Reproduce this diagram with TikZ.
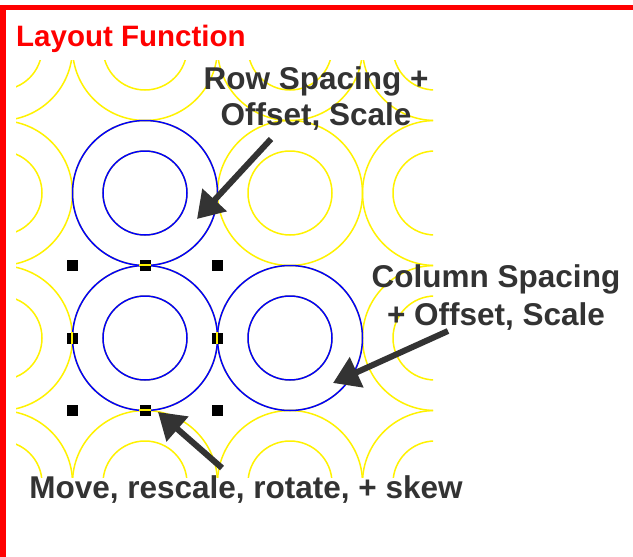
\documentclass[tikz,border=0pt]{standalone}
\usepackage{fontspec}
\setmainfont{Liberation Sans}
\usetikzlibrary{arrows.meta}
\usetikzlibrary{positioning}
\usetikzlibrary{calc}

\definecolor{txtgray}{RGB}{51,51,51}

\begin{document}
\begin{tikzpicture}
  [
    x=1pt, y=-1pt,
    ring/.style    = {line width=1.5pt},
    handle/.style  = {fill = black, minimum size=11pt, inner sep = 0pt},
    pointer/.style = {txtgray, line width=6pt, -{Triangle[length=26pt,width=32pt]}},
    caption/.style = {txtgray, font=\fontsize{31.5}{36}\selectfont\bfseries, align=center, inner sep=0pt},
  ]

  % page and frame
  \useasboundingbox (0,0) rectangle (633,557);
  \fill[white] (0,0) rectangle (633,557);
  \fill[red] (0,5) rectangle (633,10);
  \fill[red] (0,5) rectangle (6,557);

  \def\cell{145}
  \def\outer{72.5}
  \def\inner{42}

  % repeated copies
  \begin{scope}
    \clip (16,60) rectangle (433,477);
    \foreach \i in {0,...,3}
      \foreach \j in {0,...,3}
      {
        \draw[ring, yellow] (\i*\cell, 48+\j*\cell) circle (\outer pt);
        \draw[ring, yellow] (\i*\cell, 48+\j*\cell) circle (\inner pt);
      }
  \end{scope}

  % the selected cells
  \foreach \c in {(145,193),(145,338),(290,338)}
  {
    \draw[ring, blue] \c circle (\outer pt);
    \draw[ring, blue] \c circle (\inner pt);
  }

  % handles round the selection
  \foreach \hx/\hy [count=\k] in {72/265,145/265,217/265,72/338,217/338,72/410,145/410,217/410}
    \node[handle] (h\k) at (\hx,\hy) {};

  \draw[ring, yellow] (h2.west) -- (h2.east);
  \draw[ring, yellow] (h7.west) -- (h7.east);
  \draw[ring, yellow] (h4.north) -- (h4.south);
  \draw[ring, yellow] (h5.north) -- (h5.south);

  % labels (base = last line)
  \node (title) at (16,46) [anchor=base west, inner sep=0pt, red, font=\fontsize{29.5}{34}\selectfont\bfseries] {Layout Function};
  \node (rowlbl) at (316,125) [caption, anchor=base] {Row Spacing +\\Offset, Scale};
  \node (collbl) at (496,325) [caption, anchor=base, font=\fontsize{31.5}{38}\selectfont\bfseries] {Column Spacing\\+ Offset, Scale};
  \node (movelbl) at (246,498) [caption, anchor=base] {Move, rescale, rotate, + skew};

  % pointers
  \coordinate (rowtail) at (271,139);
  \coordinate (rowtip) at (197,219);
  \coordinate (coltail) at (448,331);
  \coordinate (coltip) at (333,383);
  \coordinate (movetail) at (222,468);
  \coordinate (movetip) at (158,412);

  \draw[pointer] (rowtail) -- (rowtip);
  \draw[pointer] (coltail) -- (coltip);
  \draw[pointer] (movetail) -- (movetip);

\end{tikzpicture}
\end{document}
